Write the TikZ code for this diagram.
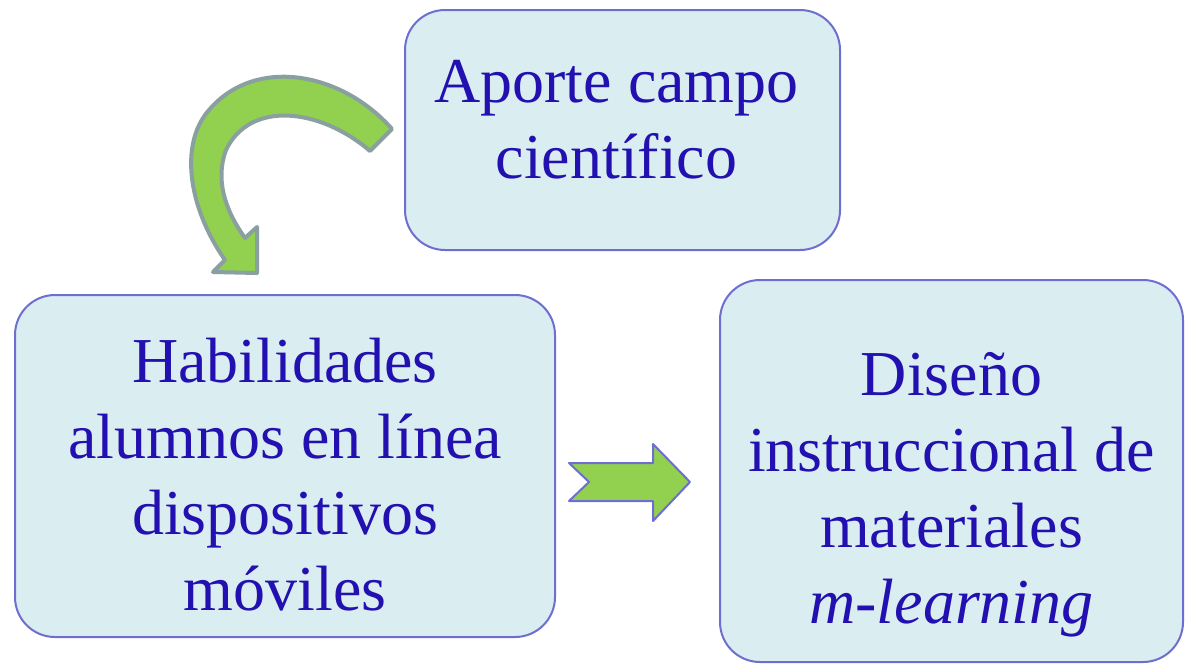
\documentclass[tikz,border=0pt]{standalone}
\usepackage{fontspec}
\setmainfont{Liberation Serif}
\definecolor{boxfill}{RGB}{218,237,240}
\definecolor{boxline}{RGB}{110,110,208}
\definecolor{boxtext}{RGB}{34,16,176}
\definecolor{arrowgreen}{RGB}{146,208,80}
\definecolor{arrowgray}{RGB}{138,160,160}
\begin{document}
\begin{tikzpicture}[x=0.5pt, y=-0.5pt, line join=round,
    bloque/.style={draw=boxline, line width=1pt, fill=boxfill, rounded corners=20pt},
    texto/.style={text=boxtext, align=center, inner sep=0pt,
        font=\fontsize{32}{38}\selectfont},
    flecha/.style={fill=arrowgreen, draw=boxline, line width=1pt}]

    \useasboundingbox (0,0) rectangle (1188,665);

    \node[bloque, minimum width=217.5pt, minimum height=120pt] (aporte) at (622.5,130) {};
    \node[bloque, minimum width=270pt, minimum height=171pt] (habilidades) at (285,466) {};
    \node[bloque, minimum width=231.5pt, minimum height=191pt] (diseno) at (951.5,471) {};

    \node[texto] (aporte-t) at ([xshift=-3pt, yshift=5pt]aporte.center) {Aporte campo\\ científico};
    \node[texto] (habilidades-t) at ([yshift=-4.5pt]habilidades.center) {Habilidades\\ alumnos en línea\\ dispositivos\\ móviles};
    \node[texto] (diseno-t) at ([yshift=-12pt]diseno.center) {Diseño\\ instruccional de\\ materiales\\ \textit{m-learning}};

    \draw[flecha] (569,463) -- (653,463) -- (653,444) -- (690,482) -- (653,521)
        -- (653,501) -- (569,501) -- (589,482) -- cycle;

    \draw[fill=arrowgreen, draw=arrowgray, line width=2pt]
        (392,129) -- (370,151)
        .. controls (320,108) and (250,100) .. (226,150)
        .. controls (215,180) and (225,210) .. (245,238)
        -- (257,227) -- (257,273) -- (213,272) -- (225,260)
        .. controls (190,210) and (180,150) .. (205,115)
        .. controls (250,55) and (340,70) .. cycle;

\end{tikzpicture}
\end{document}
